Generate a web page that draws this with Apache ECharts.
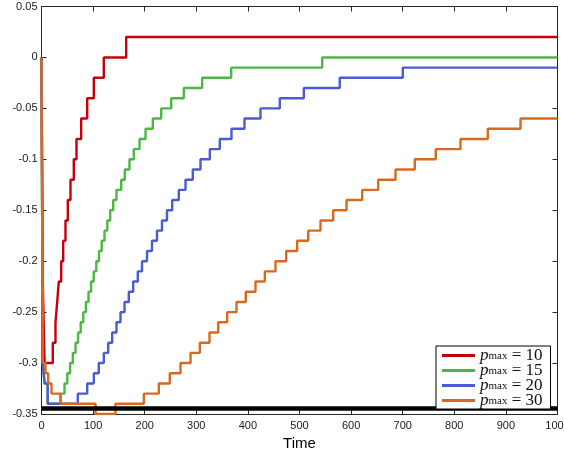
<!DOCTYPE html>
<html>
<head>
<meta charset="utf-8">
<script src="https://cdn.jsdelivr.net/npm/echarts@6/dist/echarts.min.js"></script>
<style>
html,body{margin:0;padding:0;background:#fff;}
#chart{width:564px;height:453px;}
</style>
</head>
<body>
<div id="chart"></div>
<script>
// ---- data (step transitions: x where the value changes, new value) ----
const redX = [0, 2.5, 6, 21.9, 27.1, 30.4, 33.5, 38.2, 42.1, 46.5, 51, 56.2, 62.6, 67.8, 76.9, 88.6, 101.4, 120.7, 164.1, 1000];
const redY = [0, -0.22, -0.30, -0.28, -0.26, -0.24, -0.22, -0.20, -0.18, -0.16, -0.14, -0.12, -0.10, -0.08, -0.06, -0.04, -0.02, 0, 0.02, 0.02];

const greenX = [0, 2.5, 6, 12, 37, 44.6, 50, 55.4, 60.7, 65.9, 70.9, 76, 81, 86, 91.1, 96.1, 101.2, 106.2, 111.4, 116.7, 122.1, 127.5, 133.1, 139, 145.3, 154.5, 161.4, 170.5, 178.9, 190, 201.6, 215.7, 232, 251.4, 275.8, 311.4, 367.6, 544, 1000];
const greenY = [0, -0.30, -0.32, -0.34, -0.33, -0.32, -0.31, -0.30, -0.29, -0.28, -0.27, -0.26, -0.25, -0.24, -0.23, -0.22, -0.21, -0.20, -0.19, -0.18, -0.17, -0.16, -0.15, -0.14, -0.13, -0.12, -0.11, -0.10, -0.09, -0.08, -0.07, -0.06, -0.05, -0.04, -0.03, -0.02, -0.01, 0, 0];

const blueX = [0, 2.5, 6, 12, 70.3, 88.6, 101.4, 111, 120.7, 129.3, 137, 145.3, 153.1, 160.9, 169.2, 177.7, 186.6, 194.8, 204.5, 214.1, 223.8, 233.5, 243.2, 253.3, 266.1, 279.1, 293.2, 308.1, 326.2, 345.5, 368.2, 393.4, 424.4, 461.8, 508.3, 578, 700.2, 1000];
const blueY = [0, -0.30, -0.32, -0.34, -0.33, -0.32, -0.31, -0.30, -0.29, -0.28, -0.27, -0.26, -0.25, -0.24, -0.23, -0.22, -0.21, -0.20, -0.19, -0.18, -0.17, -0.16, -0.15, -0.14, -0.13, -0.12, -0.11, -0.10, -0.09, -0.08, -0.07, -0.06, -0.05, -0.04, -0.03, -0.02, -0.01, -0.01];

const orangeX = [0, 2.5, 7.8, 13, 19.4, 36.8, 104.7, 143.4, 198.3, 227.3, 248.6, 269.4, 288.8, 306.8, 325.6, 342.4, 359.9, 377.9, 395.9, 414.7, 432.8, 453.5, 474.2, 495.5, 516.9, 540.7, 565.3, 591.1, 621.5, 652.5, 686, 723.4, 764.1, 812, 864.9, 928.3, 1000];
const orangeY = [0, -0.30, -0.31, -0.32, -0.33, -0.34, -0.35, -0.34, -0.33, -0.32, -0.31, -0.30, -0.29, -0.28, -0.27, -0.26, -0.25, -0.24, -0.23, -0.22, -0.21, -0.20, -0.19, -0.18, -0.17, -0.16, -0.15, -0.14, -0.13, -0.12, -0.11, -0.10, -0.09, -0.08, -0.07, -0.06, -0.06];

const boundX = [0, 1000];
const boundY = [-0.3445, -0.3445];

const pmaxValues = [10, 15, 20, 30];
const xTickLabels = ['0','100','200','300','400','500','600','700','800','900','1000'];
const yTickLabels = ['-0.35','-0.3','-0.25','-0.2','-0.15','-0.1','-0.05','0','0.05'];
const xAxisTitle = 'Time';

// ---- chart ----
const X_MIN = 0, X_MAX = 1000, X_STEP = 100;
const Y_MIN = -0.35, Y_MAX = 0.05, Y_STEP = 0.05;

function zip(xs, ys){ return xs.map((x,i)=>[x, ys[i]]); }

const colors = ['#c4000c', '#4cb843', '#4b5ad6', '#d9691f'];
const seriesData = [zip(redX, redY), zip(greenX, greenY), zip(blueX, blueY), zip(orangeX, orangeY)];
const names = pmaxValues.map(v => 'pmax = ' + v);

const axisColor = '#262626';
const font = 'Liberation Sans, Arial, sans-serif';
const serif = 'Liberation Serif, serif';

const chart = echarts.init(document.getElementById('chart'), null, {renderer: 'canvas'});

const series = seriesData.map((d, i) => ({
  name: names[i],
  type: 'line',
  step: 'end',
  data: d,
  showSymbol: false,
  symbol: 'none',
  xAxisIndex: 0, yAxisIndex: 0,
  lineStyle: {color: colors[i], width: 2.4},
  itemStyle: {color: colors[i]},
  z: 3 + i,
  animation: false
}));
series.push({
  name: 'bound',
  type: 'line',
  data: zip(boundX, boundY),
  showSymbol: false,
  symbol: 'none',
  lineStyle: {color: '#000', width: 4.5},
  itemStyle: {color: '#000'},
  z: 10,
  animation: false
});

const option = {
  animation: false,
  backgroundColor: '#fff',
  grid: {left: 41.5, right: 6.5, top: 6.5, bottom: 39, containLabel: false, outerBoundsMode: 'none'},
  xAxis: [{
    type: 'value', min: X_MIN, max: X_MAX, interval: X_STEP,
    position: 'bottom',
    name: xAxisTitle, nameLocation: 'middle', nameGap: 17,
    nameTextStyle: {fontFamily: font, fontSize: 15, color: '#000'},
    axisLine: {show: true, onZero: false, lineStyle: {color: axisColor, width: 1}},
    axisTick: {show: true, inside: true, length: 5, lineStyle: {color: axisColor}},
    axisLabel: {show: true, margin: 6, fontFamily: font, fontSize: 11, color: '#1a1a1a',
      formatter: v => xTickLabels[Math.round((v - X_MIN) / X_STEP)]},
    splitLine: {show: false}
  }, {
    type: 'value', min: X_MIN, max: X_MAX, interval: X_STEP,
    position: 'top',
    axisLine: {show: true, onZero: false, lineStyle: {color: axisColor, width: 1}},
    axisTick: {show: true, inside: true, length: 5, lineStyle: {color: axisColor}},
    axisLabel: {show: false},
    splitLine: {show: false}
  }],
  yAxis: [{
    type: 'value', min: Y_MIN, max: Y_MAX, interval: Y_STEP,
    position: 'left',
    axisLine: {show: true, onZero: false, lineStyle: {color: axisColor, width: 1}},
    axisTick: {show: true, inside: true, length: 5, lineStyle: {color: axisColor}},
    axisLabel: {show: true, margin: 4, fontFamily: font, fontSize: 11, color: '#1a1a1a',
      formatter: v => yTickLabels[Math.round((v - Y_MIN) / Y_STEP)]},
    splitLine: {show: false}
  }, {
    type: 'value', min: Y_MIN, max: Y_MAX, interval: Y_STEP,
    position: 'right',
    axisLine: {show: true, onZero: false, lineStyle: {color: axisColor, width: 1}},
    axisTick: {show: true, inside: true, length: 5, lineStyle: {color: axisColor}},
    axisLabel: {show: false},
    splitLine: {show: false}
  }],
  legend: {
    data: names,
    orient: 'vertical',
    left: 436, top: 346,
    padding: [1, 8, 0, 6],
    itemGap: -2,
    itemWidth: 33, itemHeight: 3,
    icon: 'rect',
    z: 20,
    backgroundColor: '#fff',
    borderColor: '#000', borderWidth: 1,
    borderRadius: 0,
    selectedMode: false,
    formatter: name => {
      const v = name.split('= ')[1];
      return '{p|p}{s|max}{e| = ' + v + '}';
    },
    textStyle: {
      fontFamily: serif,
      color: '#111',
      lineHeight: 13,
      rich: {
        p: {fontFamily: serif, fontStyle: 'italic', fontSize: 17, color: '#111', lineHeight: 13, verticalAlign: 'middle'},
        s: {fontFamily: serif, fontSize: 11, color: '#111', lineHeight: 4, verticalAlign: 'bottom'},
        e: {fontFamily: serif, fontSize: 17, color: '#111', lineHeight: 13, verticalAlign: 'middle'}
      }
    }
  },
  series: series
};

chart.setOption(option);
</script>
</body>
</html>
